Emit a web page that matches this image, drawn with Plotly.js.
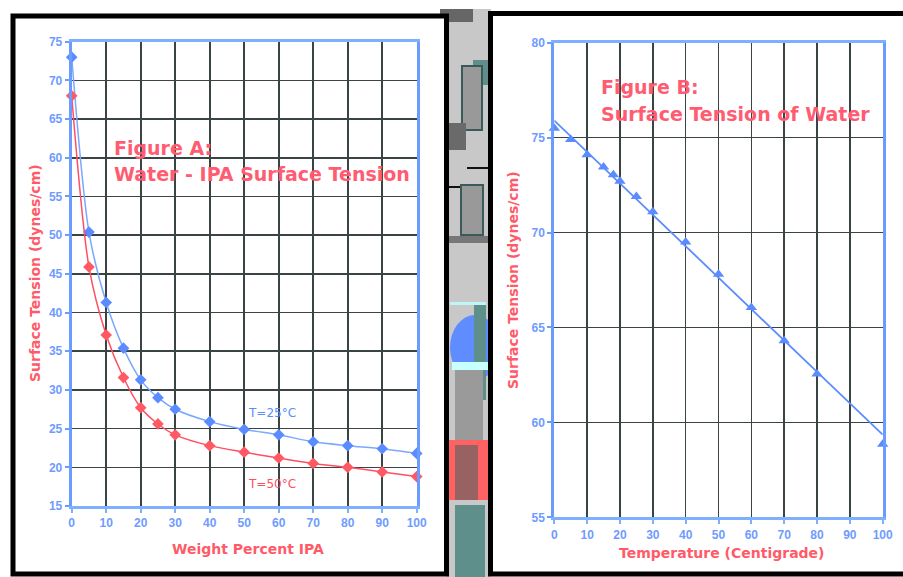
<!DOCTYPE html>
<html>
<head>
<meta charset="utf-8">
<script src="https://cdn.plot.ly/plotly-3.0.1.min.js"></script>
<style>html,body{margin:0;padding:0;background:#fff;}#chart{width:903px;height:577px;}</style>
</head>
<body>
<div id="chart"></div>
<script>
// Figure A: Water - IPA surface tension
const ipaWeightPct = [0, 5, 10, 15, 20, 25, 30, 40, 50, 60, 70, 80, 90, 100];
const tension25C   = [73.0, 50.4, 41.3, 35.4, 31.3, 29.0, 27.5, 25.9, 24.9, 24.2, 23.3, 22.8, 22.4, 21.8];
const tension50C   = [68.0, 45.9, 37.1, 31.6, 27.7, 25.6, 24.2, 22.8, 21.95, 21.2, 20.5, 20.0, 19.4, 18.8];
// Figure B: Surface tension of water
const waterTempC    = [0, 5, 10, 15, 18, 20, 25, 30, 40, 50, 60, 70, 80, 100];
const waterTension  = [75.5, 74.9, 74.1, 73.45, 73.05, 72.7, 71.9, 71.1, 69.5, 67.8, 66.05, 64.3, 62.55, 58.85];
const fitLineX = [0, 100];
const fitLineY = [75.9, 59.35];
const tickVals10 = [0, 10, 20, 30, 40, 50, 60, 70, 80, 90, 100];

const W = 903, H = 577;
const px = x => x / W;
const py = y => 1 - y / H;

const BLUE = '#5b8cff', LBLUE = '#7aa8ff', RED = '#ff4f60', PINK = '#ff5c72', TICK = '#6f9bff';

const traces = [
  {x: ipaWeightPct, y: tension25C, xaxis: 'x', yaxis: 'y', mode: 'lines+markers', name: 'T=25°C',
   line: {color: LBLUE, width: 1.5, shape: 'spline', smoothing: 0.8},
   marker: {symbol: 'diamond', size: 9, color: BLUE}, cliponaxis: false},
  {x: ipaWeightPct, y: tension50C, xaxis: 'x', yaxis: 'y', mode: 'lines+markers', name: 'T=50°C',
   line: {color: RED, width: 1.5, shape: 'spline', smoothing: 0.8},
   marker: {symbol: 'diamond', size: 9, color: '#ff5a64'}, cliponaxis: false},
  {x: fitLineX, y: fitLineY, xaxis: 'x2', yaxis: 'y2', mode: 'lines', name: 'fit',
   line: {color: BLUE, width: 1.8}, cliponaxis: false},
  {x: waterTempC, y: waterTension, xaxis: 'x2', yaxis: 'y2', mode: 'markers', name: 'water',
   marker: {symbol: 'triangle-up', size: 10, color: BLUE}, cliponaxis: false}
];

const tickFont = {family: 'Liberation Sans', size: 12, color: TICK, weight: 'bold'};
const gridCol = '#3a4444';
function xax(domain) {
  return {domain: domain, range: [0, 100], tickvals: tickVals10, showgrid: true, gridcolor: gridCol, gridwidth: 1.6,
    zeroline: false, showline: true, linecolor: '#7fb0ff', linewidth: 3, mirror: true,
    ticks: 'outside', ticklen: 4, tickcolor: '#7fb0ff', tickwidth: 2, tickfont: tickFont, fixedrange: true};
}
function yax(domain, range, dtick) {
  return {domain: domain, range: range, dtick: dtick, tick0: range[0], showgrid: true, gridcolor: gridCol, gridwidth: 1.6,
    zeroline: false, showline: true, linecolor: '#6a9cff', linewidth: 3, mirror: true,
    ticks: 'outside', ticklen: 4, tickcolor: '#6a9cff', tickwidth: 2, tickfont: tickFont, fixedrange: true};
}

const shapes = [
  // gap between panels
  {type: 'rect', xref: 'paper', yref: 'paper', x0: px(446), x1: px(491), y0: py(577), y1: py(9), fillcolor: '#c8c8c8', line: {width: 0}, layer: 'below'},
  {type: 'rect', xref: 'paper', yref: 'paper', x0: px(440), x1: px(473), y0: py(22), y1: py(9), fillcolor: '#666666', line: {width: 0}, layer: 'below'},
  {type: 'rect', xref: 'paper', yref: 'paper', x0: px(473), x1: px(490), y0: py(85), y1: py(60), fillcolor: '#5e8f8a', line: {width: 0}, layer: 'below'},
  {type: 'rect', xref: 'paper', yref: 'paper', x0: px(462), x1: px(482), y0: py(130), y1: py(66), fillcolor: '#999999', line: {color: '#3a5a58', width: 2}, layer: 'below'},
  {type: 'rect', xref: 'paper', yref: 'paper', x0: px(449), x1: px(466), y0: py(150), y1: py(123), fillcolor: '#6a6a6a', line: {width: 0}, layer: 'below'},
  {type: 'line', xref: 'paper', yref: 'paper', x0: px(467), x1: px(490), y0: py(168), y1: py(168), line: {color: '#111', width: 2}, layer: 'below'},
  {type: 'line', xref: 'paper', yref: 'paper', x0: px(449), x1: px(467), y0: py(187), y1: py(187), line: {color: '#111', width: 2}, layer: 'below'},
  {type: 'rect', xref: 'paper', yref: 'paper', x0: px(461), x1: px(483), y0: py(235), y1: py(185), fillcolor: '#999999', line: {color: '#3a5a58', width: 2}, layer: 'below'},
  {type: 'rect', xref: 'paper', yref: 'paper', x0: px(449), x1: px(490), y0: py(243), y1: py(236), fillcolor: '#777777', line: {width: 0}, layer: 'below'},
  {type: 'circle', xref: 'paper', yref: 'paper', x0: px(450), x1: px(500), y0: py(380), y1: py(315), fillcolor: '#5f8cff', line: {width: 0}, layer: 'below'},
  {type: 'rect', xref: 'paper', yref: 'paper', x0: px(474), x1: px(486), y0: py(400), y1: py(305), fillcolor: '#5e8f8a', line: {width: 0}, layer: 'below'},
  {type: 'rect', xref: 'paper', yref: 'paper', x0: px(450), x1: px(486), y0: py(305), y1: py(302), fillcolor: '#bff5f5', line: {width: 0}, layer: 'below'},
  {type: 'rect', xref: 'paper', yref: 'paper', x0: px(455), x1: px(483), y0: py(455), y1: py(365), fillcolor: '#9a9a9a', line: {width: 0}, layer: 'below'},
  {type: 'rect', xref: 'paper', yref: 'paper', x0: px(452), x1: px(490), y0: py(370), y1: py(362), fillcolor: '#c8ffff', line: {width: 0}, layer: 'below'},
  {type: 'rect', xref: 'paper', yref: 'paper', x0: px(449), x1: px(490), y0: py(500), y1: py(440), fillcolor: '#ff6262', line: {width: 0}, layer: 'below'},
  {type: 'rect', xref: 'paper', yref: 'paper', x0: px(455), x1: px(478), y0: py(500), y1: py(445), fillcolor: '#996262', line: {width: 0}, layer: 'below'},
  {type: 'rect', xref: 'paper', yref: 'paper', x0: px(455), x1: px(485), y0: py(577), y1: py(505), fillcolor: '#5e8f8a', line: {width: 0}, layer: 'below'},
  // panels
  {type: 'rect', xref: 'paper', yref: 'paper', x0: px(13), x1: px(446.5), y0: py(574), y1: py(16), fillcolor: '#ffffff', line: {color: '#000', width: 5}, layer: 'below'},
  {type: 'rect', xref: 'paper', yref: 'paper', x0: px(490.5), x1: px(915), y0: py(574), y1: py(13.5), fillcolor: '#ffffff', line: {color: '#000', width: 5}, layer: 'below'}
];

const titleFont = {family: 'DejaVu Sans', size: 19, color: PINK, weight: 'bold'};
const axTitleFont = {family: 'DejaVu Sans', size: 14, color: '#ff5a68', weight: 'bold'};
const annotations = [
  {xref: 'x', yref: 'y', x: 11.7, y: 61.3, text: 'Figure A:', showarrow: false, xanchor: 'left', yanchor: 'middle', font: titleFont},
  {xref: 'x', yref: 'y', x: 11.7, y: 57.9, text: 'Water - IPA Surface Tension', showarrow: false, xanchor: 'left', yanchor: 'middle', font: titleFont},
  {xref: 'x', yref: 'y', x: 58, y: 27.0, text: 'T=25°C', showarrow: false, xanchor: 'center', yanchor: 'middle', font: {family: 'DejaVu Sans', size: 12, color: BLUE}},
  {xref: 'x', yref: 'y', x: 58, y: 17.9, text: 'T=50°C', showarrow: false, xanchor: 'center', yanchor: 'middle', font: {family: 'DejaVu Sans', size: 12, color: RED}},
  {xref: 'x2', yref: 'y2', x: 13.6, y: 77.65, text: 'Figure B:', showarrow: false, xanchor: 'left', yanchor: 'middle', font: titleFont},
  {xref: 'x2', yref: 'y2', x: 13.6, y: 76.27, text: 'Surface Tension of Water', showarrow: false, xanchor: 'left', yanchor: 'middle', font: titleFont},
  {xref: 'paper', yref: 'paper', x: px(248), y: py(549), text: 'Weight Percent IPA', showarrow: false, xanchor: 'center', yanchor: 'middle', font: axTitleFont},
  {xref: 'paper', yref: 'paper', x: px(722), y: py(553), text: 'Temperature (Centigrade)', showarrow: false, xanchor: 'center', yanchor: 'middle', font: axTitleFont},
  {xref: 'paper', yref: 'paper', x: px(35), y: py(273), text: 'Surface Tension (dynes/cm)', textangle: -90, showarrow: false, xanchor: 'center', yanchor: 'middle', font: axTitleFont},
  {xref: 'paper', yref: 'paper', x: px(513), y: py(280), text: 'Surface Tension (dynes/cm)', textangle: -90, showarrow: false, xanchor: 'center', yanchor: 'middle', font: axTitleFont}
];

const layout = {
  width: W, height: H, margin: {l: 0, r: 0, t: 0, b: 0},
  paper_bgcolor: '#ffffff', plot_bgcolor: '#c8c8c8', showlegend: false,
  xaxis: xax([px(71.7), px(416.7)]),
  yaxis: yax([py(506), py(41.7)], [15, 75], 5),
  xaxis2: Object.assign(xax([px(554.3), px(882.7)]), {anchor: 'y2'}),
  yaxis2: Object.assign(yax([py(517.3), py(42.7)], [55, 80], 5), {anchor: 'x2'}),
  shapes: shapes, annotations: annotations
};
layout.xaxis.anchor = 'y';
layout.yaxis.anchor = 'x';

Plotly.newPlot('chart', traces, layout, {displayModeBar: false, staticPlot: true});
</script>
</body>
</html>
